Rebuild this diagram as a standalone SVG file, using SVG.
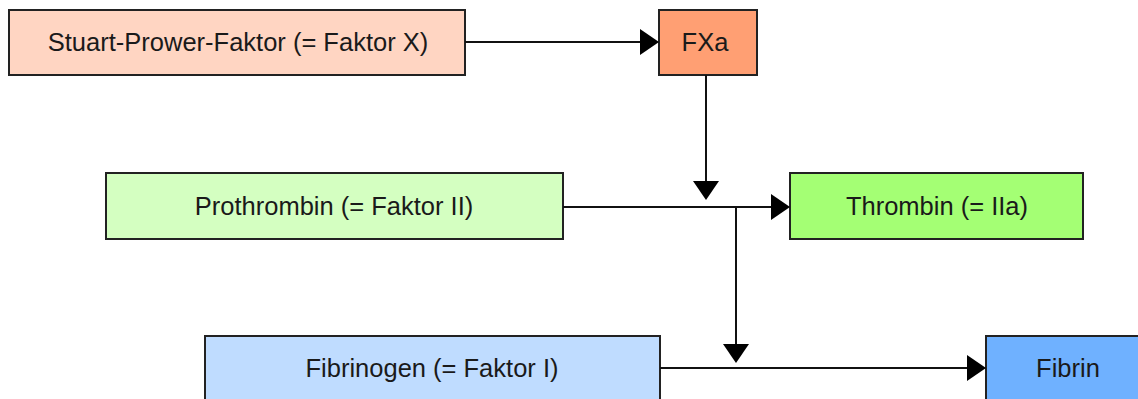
<svg xmlns="http://www.w3.org/2000/svg" width="1138" height="399" viewBox="0 0 1138 399">
<style>
.box{stroke:#222;stroke-width:2}
.lbl{font-family:"Liberation Sans",Arial,sans-serif;font-size:25.5px;fill:#1a1a1a;text-anchor:middle;dominant-baseline:central}
.ln{stroke:#111;stroke-width:2;fill:none}
.ah{fill:#000}
</style>
<rect width="1138" height="399" fill="#fff"/>
<g id="stuart"><rect class="box" x="9" y="10" width="456" height="65" fill="#FFD5C2"/><text class="lbl" x="238" y="42">Stuart-Prower-Faktor (= Faktor X)</text></g>
<g id="fxa"><rect class="box" x="659" y="10" width="98" height="65" fill="#FF9F73"/><text class="lbl" x="705" y="42">FXa</text></g>
<g id="prothrombin"><rect class="box" x="106" y="173" width="457" height="66" fill="#D4FFC1"/><text class="lbl" x="334" y="206">Prothrombin (= Faktor II)</text></g>
<g id="thrombin"><rect class="box" x="790" y="173" width="293" height="66" fill="#A4FF74"/><text class="lbl" x="937" y="206">Thrombin (= IIa)</text></g>
<g id="fibrinogen"><rect class="box" x="205" y="336" width="455" height="80" fill="#BFDCFF"/><text class="lbl" x="432" y="368">Fibrinogen (= Faktor I)</text></g>
<g id="fibrin"><rect class="box" x="986" y="336" width="170" height="80" fill="#6FB1FF"/><text class="lbl" x="1068" y="368">Fibrin</text></g>
<g id="connectors">
<line class="ln" x1="465" y1="42" x2="642" y2="42"/><polygon class="ah" points="659,42 640,29 640,55"/>
<line class="ln" x1="706" y1="75" x2="706" y2="182"/><polygon class="ah" points="706,200 693,181 719,181"/>
<line class="ln" x1="563" y1="207" x2="773" y2="207"/><polygon class="ah" points="790,207 771,194 771,220"/>
<line class="ln" x1="736" y1="207" x2="736" y2="345"/><polygon class="ah" points="736,363 723,344 749,344"/>
<line class="ln" x1="660" y1="368" x2="969" y2="368"/><polygon class="ah" points="986,368 967,355 967,381"/>
</g>
</svg>
